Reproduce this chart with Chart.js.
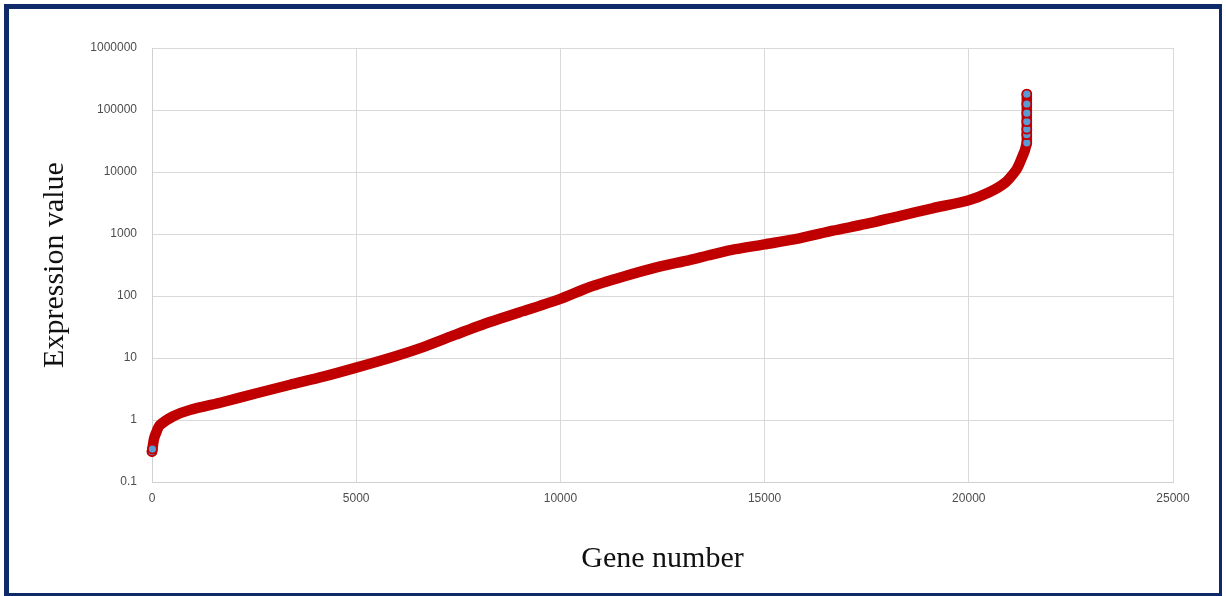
<!DOCTYPE html>
<html>
<head>
<meta charset="utf-8">
<script src="https://cdn.jsdelivr.net/npm/chart.js@4.4.0/dist/chart.umd.min.js"></script>
<style>
body{margin:0;background:#fff;width:1226px;height:596px;overflow:hidden;position:relative}
.frame{position:absolute;left:4px;top:4px;width:1218px;height:592px;box-sizing:border-box;border:solid #0e2a68;border-width:5px 3px 3px 5px}
#myChart{position:absolute;left:0;top:0}
</style>
</head>
<body>
<div class="frame"></div>
<canvas id="myChart" width="1226" height="596"></canvas>
<script>
// values (sorted expression per gene)
let geneNumber=[0,10,25,50,100,190,520,925,1740,2560,3380,4190,5000,5900,6640,7450,8270,9090,10000,10720,11530,12350,13160,13610,14170,15000,15850,16670,17480,18300,19110,20000,20500,20900,21150,21225,21300,21370,21400,21420,21420,21420,21420,21420,21420,21420]
let expressionValue=[0.31,0.34,0.4,0.5,0.62,0.82,1.15,1.45,1.95,2.7,3.7,5.0,7.0,10.4,15,24,38,57,90,140,205,290,380,450,550,680,850,1130,1450,1950,2600,3500,4700,6800,10500,13000,17000,22000,26000,29500,40000,49000,65000,89000,125000,180000]
let yTicks=[0.1,1,10,100,1000,10000,100000,1000000]
let xMax=25000, xStep=5000

let points=geneNumber.map((g,i)=>({x:g,y:expressionValue[i]}))
let marked=ctx=>ctx.dataIndex<2||expressionValue[ctx.dataIndex]>=29000

const data={
  datasets:[{
    label:'Expression value',
    data:points,
    showLine:true,
    borderColor:'#c00000',
    borderWidth:10.5,
    borderCapStyle:'round',
    borderJoinStyle:'round',
    tension:0.25,
    clip:false,
    pointRadius:ctx=>marked(ctx)?4.5:0,
    pointBackgroundColor:'#5b9bd5',
    pointBorderColor:'#c00000',
    pointBorderWidth:1.8
  }]
}
const tickFont={family:'Liberation Sans',size:12}
const titleFont={family:'Liberation Serif',size:30}
const config={
  type:'scatter',
  data,
  options:{
    responsive:false,
    animation:false,
    layout:{padding:{top:48,right:53,left:0,bottom:0}},
    plugins:{legend:{display:false},tooltip:{enabled:false}},
    scales:{
      x:{
        type:'linear',min:0,max:xMax,
        afterFit:s=>{s.height=114},
        ticks:{stepSize:xStep,color:'#4d4d4d',font:tickFont,padding:9,maxRotation:0,callback:v=>String(v)},
        grid:{color:'#d9d9d9',drawTicks:false},
        border:{color:'#d0d0d0'},
        title:{display:true,text:'Gene number',color:'#111',font:titleFont,padding:{top:0,bottom:19}}
      },
      y:{
        type:'logarithmic',min:0.1,max:1000000,
        afterFit:s=>{s.width=152},
        afterBuildTicks:s=>{s.ticks=yTicks.map(v=>({value:v}))},
        ticks:{color:'#4d4d4d',font:tickFont,padding:15,callback:v=>String(v)},
        grid:{color:'#d9d9d9',drawTicks:false},
        border:{color:'#d0d0d0'},
        title:{display:true,text:'Expression value',color:'#111',font:titleFont,padding:{top:37,bottom:0}}
      }
    }
  }
}
var myChart=new Chart(document.getElementById('myChart'),config)
</script>
</body>
</html>
